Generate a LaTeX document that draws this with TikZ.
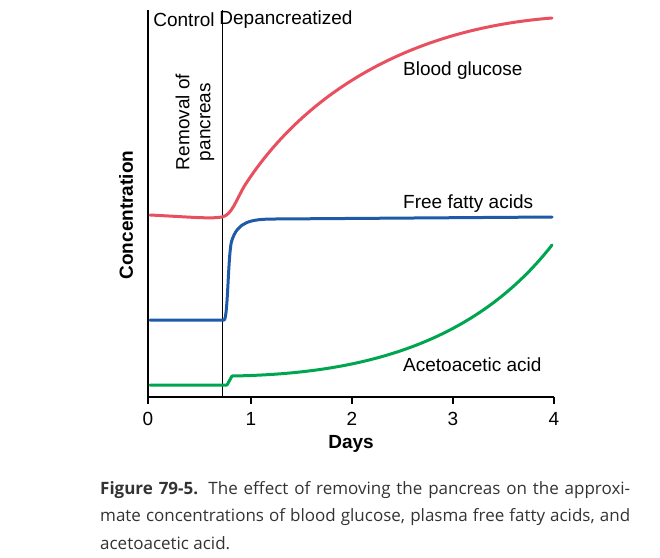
\documentclass[tikz,border=0pt]{standalone}
\usepackage{fontspec}
\setmainfont{Liberation Sans}
\newfontfamily\capfont{Open Sans}
\begin{document}
\begin{tikzpicture}[x=1pt,y=-1pt,
  ax/.style={line width=1.2pt,black},
  crv/.style={line width=3pt,line cap=round,line join=round},
  lbl/.style={font=\fontsize{19}{21}\selectfont,inner sep=0pt}]
\useasboundingbox (0,0) rectangle (660,557);
\definecolor{cred}{RGB}{232,80,96}
\definecolor{cblue}{RGB}{30,90,168}
\definecolor{cgreen}{RGB}{0,165,80}
% axes
\coordinate (o) at (148,397);
\coordinate (top) at (148,10);
\coordinate (xe) at (554,397);
\draw[ax] (top) -- (o) -- (xe);
\draw[line width=1pt] (222,10) -- (222,397);
\foreach \i/\x in {0/148,1/251,2/352,3/453,4/554}{
  \draw[ax] (\x,397) -- (\x,404);
  \node[lbl,font=\fontsize{19}{21}\selectfont] (t\i) at (\x,419) {\i};
}
% curves
\draw[crv,cred] (150,215) .. controls (190,217) and (210,219) .. (222,217)
  .. controls (232,215) and (236,200) .. (245,185)
  .. controls (300,100) and (400,30) .. (552,18);
\draw[crv,cblue] (150,320) -- (224,320) .. controls (228,320) and (228,250) .. (232,240)
  .. controls (238,222) and (250,219) .. (275,219) -- (552,217);
\draw[crv,cgreen] (150,385) -- (227,385) -- (232,376)
  .. controls (350,374) and (470,350) .. (552,245);
% labels
\node[lbl] (ctl) at (184,20) {Control};
\node[lbl] (dep) at (286,20) {Depancreatized};
\node[lbl,rotate=90,align=center] (rem) at (195,122) {Removal of\\pancreas};
\node[lbl,anchor=west] (bg) at (403,71) {Blood glucose};
\node[lbl,anchor=west] (ffa) at (403,204) {Free fatty acids};
\node[lbl,anchor=west] (aa) at (403,365) {Acetoacetic acid};
\node[lbl,font=\fontsize{19}{21}\selectfont\bfseries,rotate=90] (yl) at (126,215) {Concentration};
\node[lbl,font=\fontsize{19}{21}\selectfont\bfseries] (xl) at (351,444) {Days};
\node[inner sep=0pt,anchor=north west,text=black!80] (cap) at (100,481)
 {\parbox{530pt}{\capfont\fontsize{17}{27.5}\selectfont\textbf{Figure 79-5.} The effect of removing the pancreas on the approxi-\linebreak mate concentrations of blood glucose, plasma free fatty acids, and acetoacetic acid.}};
\end{tikzpicture}
\end{document}
